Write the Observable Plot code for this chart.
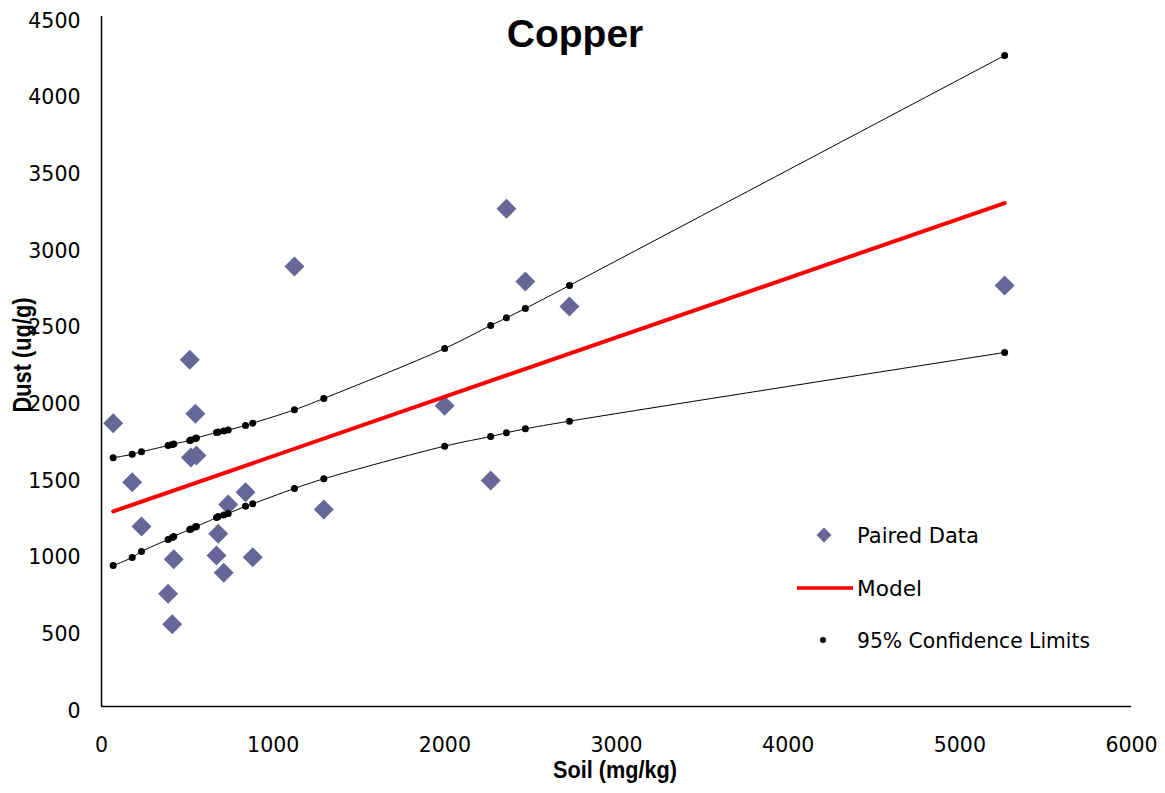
<!DOCTYPE html>
<html><head><meta charset="utf-8">
<script src="https://cdn.jsdelivr.net/npm/d3@7"></script>
<script src="https://cdn.jsdelivr.net/npm/@observablehq/plot@0.6"></script>
<style>
html,body{margin:0;padding:0;background:#fff;}
#wrap{position:relative;width:1165px;height:793px;}
</style></head><body><div id="wrap"></div>
<script>
// Paired data (sorted by soil)
const soil = [68,179,233,388,412,421,514,521,547,553,670,680,712,738,839,881,1124,1295,1999,2267,2359,2469,2726,5261];
const dust = [1848,1463,1174,735,536,960,2261,1624,1909,1637,985,1126,872,1317,1398,973,2870,1285,1961,1474,3246,2772,2609,2746];
// 95% confidence limits at each soil value
const ciUpper = [1622,1645,1661,1702,1709,1712,1735,1738,1748,1751,1787,1790,1797,1803,1833,1848,1935,2009,2335,2485,2535,2596,2746,4246];
const ciLower = [919,972,1011,1089,1102,1109,1154,1157,1170,1174,1232,1239,1249,1259,1306,1322,1422,1485,1698,1761,1785,1811,1861,2309];
// Model line
const modelSoil = [68, 5261];
const modelDust = [1272, 3283];
// Ticks
const xTicks = [0,1000,2000,3000,4000,5000,6000];
const yTicks = [0,500,1000,1500,2000,2500,3000,3500,4000,4500];

const paired = soil.map((x,i)=>({x, y:dust[i]}));
const upper = soil.map((x,i)=>({x, y:ciUpper[i]}));
const lower = soil.map((x,i)=>({x, y:ciLower[i]}));
const model = modelSoil.map((x,i)=>({x, y:modelDust[i]}));

const fmt = d => String(d);

const chart = Plot.plot({
  width:1165, height:793,
  marginLeft:101, marginRight:34, marginTop:16, marginBottom:87,
  style:{fontFamily:"'DejaVu Sans', sans-serif", fontSize:"20.5px", color:"#000", background:"#fff", overflow:"visible"},
  x:{domain:[0,6000], axis:null},
  y:{domain:[0,4500], axis:null},
  marks:[
    Plot.axisX(xTicks, {tickSize:0, tickPadding:31, fontSize:20.5, tickFormat:fmt, label:null}),
    Plot.axisY(yTicks, {tickSize:0, tickPadding:21, dy:4.5, fontSize:20.5, tickFormat:fmt, label:null}),
    Plot.ruleY([0], {stroke:"#000", strokeWidth:1.5}),
    Plot.ruleX([0], {stroke:"#000", strokeWidth:1.5}),
    Plot.dot(paired, {x:"x", y:"y", symbol:"diamond2", r:9, fill:"#666699", stroke:null}),
    Plot.line(model, {x:"x", y:"y", stroke:"#ff0000", strokeWidth:4}),
    Plot.line(upper, {x:"x", y:"y", curve:"catmull-rom", stroke:"#000", strokeWidth:1}),
    Plot.line(lower, {x:"x", y:"y", curve:"catmull-rom", stroke:"#000", strokeWidth:1}),
    Plot.dot(upper, {x:"x", y:"y", r:3.5, fill:"#000", stroke:null}),
    Plot.dot(lower, {x:"x", y:"y", r:3.5, fill:"#000", stroke:null})
  ]
});
document.getElementById("wrap").appendChild(chart);

const svg = d3.select(chart);
const boldFont = "'Liberation Sans', Arial, sans-serif";
svg.append("text").text("Copper")
  .attr("x",575).attr("y",47).attr("text-anchor","middle")
  .style("font-family",boldFont).style("font-weight","bold").style("font-size","39px").attr("fill","#000");
svg.append("text").text("Soil (mg/kg)")
  .attr("x",615).attr("y",778).attr("text-anchor","middle")
  .attr("textLength",124).attr("lengthAdjust","spacingAndGlyphs")
  .style("font-family",boldFont).style("font-weight","bold").style("font-size","23px").attr("fill","#000");
svg.append("text").text("Dust (ug/g)")
  .attr("transform","translate(31,355) rotate(-90)").attr("text-anchor","middle")
  .attr("textLength",115).attr("lengthAdjust","spacingAndGlyphs")
  .style("font-family",boldFont).style("font-weight","bold").style("font-size","25px").attr("fill","#000");

// Legend
const lg = svg.append("g").style("font-family","'DejaVu Sans', sans-serif").style("font-size","21px").attr("text-anchor","start");
lg.append("path").attr("d", d3.symbol(d3.symbolDiamond2, 143)()).attr("transform","translate(824,535)").attr("fill","#666699");
lg.append("text").text("Paired Data").attr("x",857).attr("y",543).attr("text-anchor","start")
  .attr("textLength",122).attr("lengthAdjust","spacingAndGlyphs").attr("fill","#000");
lg.append("line").attr("x1",797).attr("x2",853).attr("y1",588).attr("y2",588).attr("stroke","#ff0000").attr("stroke-width",3.5);
lg.append("text").text("Model").attr("x",857).attr("y",596).attr("text-anchor","start")
  .attr("textLength",65).attr("lengthAdjust","spacingAndGlyphs").attr("fill","#000");
lg.append("circle").attr("cx",823).attr("cy",640).attr("r",3).attr("fill","#000");
lg.append("text").text("95% Confidence Limits").attr("x",857).attr("y",648).attr("text-anchor","start")
  .attr("textLength",233).attr("lengthAdjust","spacingAndGlyphs").attr("fill","#000");
</script></body></html>
